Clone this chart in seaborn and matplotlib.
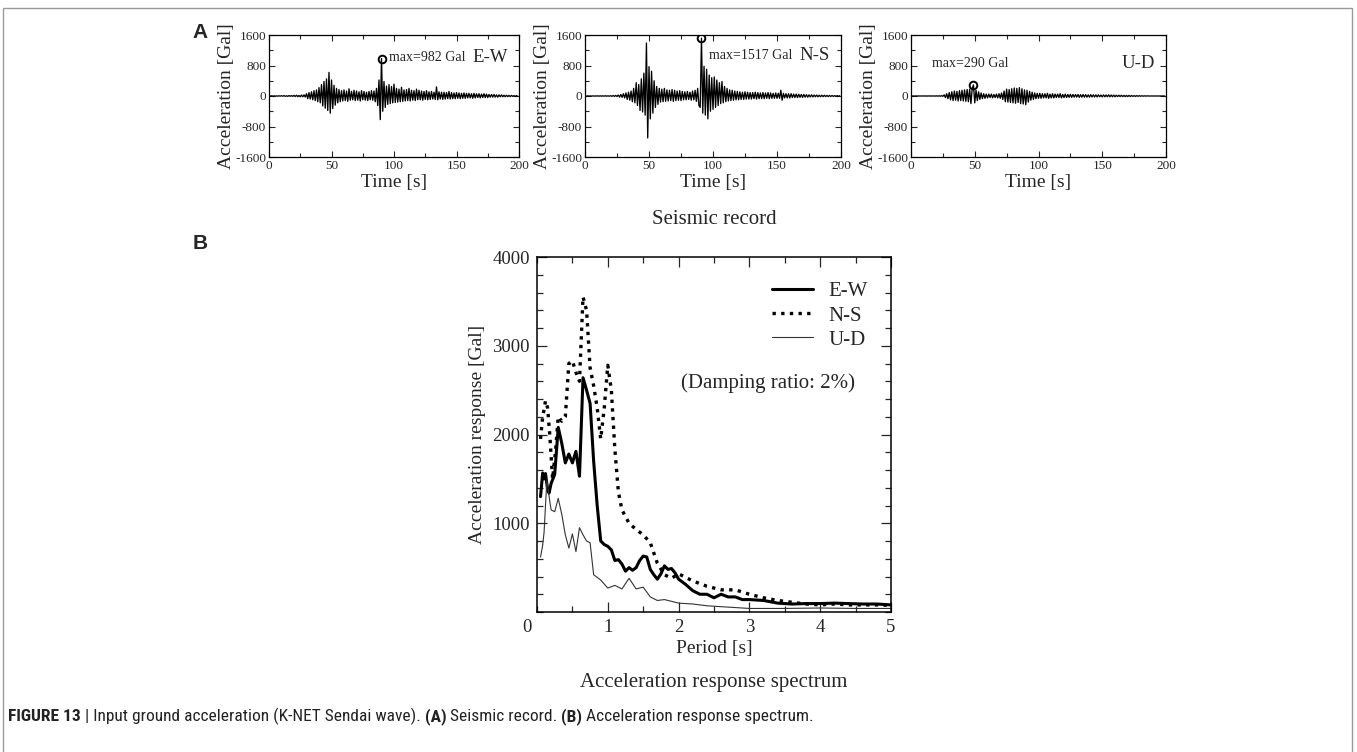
import numpy as np
import matplotlib
matplotlib.use("Agg")
import matplotlib.pyplot as plt
from matplotlib.patches import Rectangle
from matplotlib.ticker import MultipleLocator
from matplotlib import font_manager
import seaborn as sns

sns.set_theme(style="ticks")
plt.rcParams['font.family'] = ['Liberation Serif', 'DejaVu Serif']
plt.rcParams['axes.linewidth'] = 0.9
plt.rcParams['axes.unicode_minus'] = False

# ---- seismic record, 1 s samples (Gal) ----
time_s = np.arange(0, 200)

acc_ew = [
    4, -4, 5, -3, 4, -5, 3, -4, 5, -4,
    8, -6, 10, -8, 6, -10, 12, -8, 10, -9,
    15, -12, 20, -18, 14, -20, 25, -22, 30, -28,
    60, -70, 90, -80, 110, -100, 140, -120, 160, -150,
    220, -180, 300, -260, 380, -320, 450, -380, 620, -450,
    420, -330, 280, -240, 200, -180, 170, -150, 140, -130,
    160, -120, 130, -140, 190, -110, 120, -100, 150, -120,
    130, -110, 110, -130, 140, -100, 120, -110, 100, -120,
    120, -100, 140, -110, 130, -150, 200, -250, 420, -620,
    982, -400, 380, -300, 260, -220, 300, -200, 250, -180,
    310, -170, 200, -160, 180, -150, 230, -140, 160, -130,
    170, -120, 200, -130, 150, -110, 140, -120, 180, -100,
    150, -100, 130, -110, 120, -90, 140, -100, 110, -90,
    120, -80, 100, -90, 240, -100, 110, -80, 100, -90,
    100, -80, 90, -70, 120, -80, 90, -70, 80, -70,
    90, -60, 80, -70, 70, -60, 80, -60, 70, -50,
    70, -50, 60, -60, 70, -50, 60, -40, 60, -50,
    50, -40, 60, -40, 50, -40, 40, -30, 40, -30,
    40, -30, 30, -30, 30, -20, 30, -20, 20, -20,
    20, -15, 15, -15, 15, -10, 10, -10, 10, -10,
]

acc_ns = [
    3, -3, 3, -3, 3, -3, 3, -3, 3, -3,
    4, -4, 5, -5, 4, -4, 6, -5, 5, -6,
    8, -8, 12, -10, 15, -12, 25, -30, 40, -35,
    60, -50, 80, -90, 100, -110, 130, -150, 200, -180,
    350, -250, 300, -380, 450, -420, 600, -500, 1390, -1100,
    770, -600, 650, -450, 400, -300, 250, -220, 200, -160,
    180, -150, 200, -140, 160, -130, 150, -120, 170, -140,
    150, -120, 130, -110, 140, -120, 120, -100, 110, -100,
    120, -90, 100, -110, 130, -100, 150, -140, 200, -250,
    -300, 1517, -450, 780, -500, 700, -600, 550, -400, 480,
    -350, 500, -300, 420, -250, 350, -200, 380, -180, 250,
    -150, 200, -130, 160, -120, 150, -110, 130, -100, 120,
    -100, 110, -90, 100, -90, 110, -80, 100, -80, 90,
    -80, 90, -70, 100, -80, 90, -70, 80, -70, 90,
    -70, 80, -60, 90, -70, 80, -60, 70, -60, 80,
    -60, 70, -60, 150, -110, 70, -50, 60, -50, 60,
    -50, 60, -40, 50, -40, 50, -40, 45, -35, 40,
    -35, 40, -30, 35, -30, 30, -25, 30, -25, 25,
    -20, 25, -20, 20, -20, 20, -15, 20, -15, 15,
    -15, 15, -12, 12, -10, 10, -10, 10, -8, 8,
]

acc_ud = [
    2, -2, 2, -2, 2, -2, 2, -2, 2, -2,
    3, -3, 3, -3, 3, -3, 3, -3, 3, -3,
    5, -5, 6, -6, 8, -8, 30, -40, 60, -70,
    90, -100, 110, -120, 130, -110, 120, -130, 140, -120,
    150, -130, 160, -140, 170, -150, 180, -200, 190, 290,
    -180, 150, -120, 110, -90, 80, -70, 60, -60, 50,
    -50, 50, -40, 50, -50, 40, -40, 50, -50, 60,
    -60, 80, -90, 130, -150, 180, -160, 170, -170, 190,
    -180, 210, -190, 200, -170, 220, -200, 190, -210, 160,
    -230, 150, -160, 120, -110, 100, -90, 80, -70, 70,
    -60, 70, -60, 60, -50, 60, -50, 70, -60, 50,
    -50, 60, -50, 50, -40, 50, -40, 60, -50, 40,
    -40, 50, -40, 40, -35, 45, -35, 40, -30, 40,
    -30, 40, -35, 35, -30, 40, -30, 35, -30, 30,
    -30, 35, -25, 30, -25, 30, -25, 30, -20, 25,
    -25, 30, -20, 25, -20, 30, -20, 25, -20, 25,
    -20, 20, -15, 20, -15, 20, -15, 15, -15, 15,
    -15, 15, -12, 12, -10, 10, -10, 10, -8, 8,
    -6, 6, -5, 5, -3, 3, 0, 0, 0, 0,
    0, 0, 0, 0, 0, 0, 0, 0, 0, 0,
]

records = [
    ("E-W", acc_ew, 90, 982, "max=982 Gal"),
    ("N-S", acc_ns, 91, 1517, "max=1517 Gal"),
    ("U-D", acc_ud, 49, 290, "max=290 Gal"),
]

# ---- acceleration response spectrum (Gal) ----
period_ew = [0.05, 0.08, 0.1, 0.12, 0.15, 0.17, 0.2, 0.25, 0.3, 0.35, 0.4, 0.45,
             0.5, 0.55, 0.6, 0.65, 0.7, 0.75, 0.8, 0.85, 0.9, 0.95, 1.0, 1.05,
             1.1, 1.15, 1.2, 1.25, 1.3, 1.35, 1.4, 1.45, 1.5, 1.55, 1.6, 1.65,
             1.7, 1.75, 1.8, 1.85, 1.9, 1.95, 2.0, 2.1, 2.2, 2.3, 2.4, 2.5, 2.6,
             2.7, 2.8, 2.9, 3.0, 3.2, 3.4, 3.6, 3.8, 4.0, 4.2, 4.4, 4.6, 4.8, 5.0]
sa_ew = [1300, 1566, 1500, 1560, 1380, 1340, 1450, 1550, 2080, 1900, 1680, 1780,
         1680, 1810, 1530, 2640, 2500, 2350, 1700, 1200, 800, 760, 740, 700,
         580, 590, 540, 460, 500, 470, 500, 580, 630, 620, 480, 420,
         370, 430, 520, 480, 490, 440, 370, 310, 240, 200, 200, 160, 200,
         170, 170, 140, 140, 130, 100, 90, 95, 95, 100, 95, 90, 90, 80]

period_ns = [0.05, 0.08, 0.1, 0.12, 0.15, 0.18, 0.22, 0.26, 0.3, 0.35, 0.4, 0.45,
             0.5, 0.55, 0.6, 0.65, 0.7, 0.75, 0.8, 0.85, 0.9, 0.95, 1.0, 1.05,
             1.1, 1.15, 1.2, 1.3, 1.4, 1.5, 1.6, 1.7, 1.8, 1.9, 2.0, 2.2, 2.4,
             2.6, 2.8, 3.0, 3.2, 3.4, 3.6, 3.8, 4.0, 4.2, 4.4, 4.6, 4.8, 5.0]
sa_ns = [1950, 2200, 2280, 2380, 2300, 2000, 1500, 1800, 2200, 2150, 2200, 2800,
         2830, 2700, 2600, 3550, 3400, 2750, 2550, 2300, 1950, 2300, 2780, 2500,
         1830, 1350, 1150, 1000, 930, 870, 780, 550, 420, 380, 430, 350, 290,
         250, 250, 200, 160, 130, 110, 90, 80, 90, 80, 80, 80, 75]

period_ud = [0.05, 0.08, 0.1, 0.12, 0.14, 0.18, 0.2, 0.25, 0.3, 0.35, 0.4, 0.45,
             0.5, 0.55, 0.6, 0.65, 0.7, 0.75, 0.8, 0.9, 1.0, 1.1, 1.2, 1.3,
             1.4, 1.5, 1.6, 1.7, 1.8, 1.9, 2.0, 2.2, 2.4, 2.6, 2.8, 3.0, 3.5,
             4.0, 4.5, 5.0]
sa_ud = [620, 750, 900, 1200, 1490, 1250, 1150, 1130, 1280, 1100, 870, 720,
         880, 680, 950, 870, 800, 780, 420, 360, 270, 300, 260, 380,
         260, 280, 170, 130, 140, 120, 100, 90, 70, 60, 50, 40, 40,
         45, 40, 40]

W, H = 1357, 752
fig = plt.figure(figsize=(W / 100, H / 100), dpi=100)
fig.patch.set_facecolor("white")

# outer frame of the figure box
fig.add_artist(Rectangle((3 / W, -0.05), 1349 / W, 1.05 - 8 / H, transform=fig.transFigure,
                         fill=False, edgecolor="#9a9a9a", linewidth=1.0, clip_on=False))

trace_boxes = [(269, 250), (585, 256), (911, 255)]
label_pos = [(96, 1020), (96.5, 1050), (16.5, 865)]

for (left, width), (name, acc, t_max, a_max, max_txt), (tx, ty) in zip(trace_boxes, records, label_pos):
    ax = fig.add_axes([left / W, 1 - 157 / H, width / W, 122 / H])
    sns.lineplot(x=time_s, y=acc, ax=ax, color="black", linewidth=0.95,
                 estimator=None, sort=False)
    ax.plot([t_max], [a_max], marker="o", ms=5.5, mfc="none", mec="black", mew=1.4)
    ax.text(tx, ty, max_txt, fontsize=10, va="center", ha="left")
    ax.text(0.955, ty, name, transform=ax.get_yaxis_transform(), fontsize=13.5,
            va="center", ha="right")
    ax.set_xlim(0, 200)
    ax.set_ylim(-1600, 1600)
    ax.xaxis.set_major_locator(MultipleLocator(50))
    ax.xaxis.set_minor_locator(MultipleLocator(25))
    ax.yaxis.set_major_locator(MultipleLocator(800))
    ax.yaxis.set_minor_locator(MultipleLocator(400))
    ax.tick_params(which="both", direction="in", top=True, right=True,
                   labelsize=9.5, pad=2, width=0.8)
    ax.tick_params(which="major", length=4)
    ax.tick_params(which="minor", length=3)
    ax.set_xlabel("Time [s]", fontsize=14)
    ax.xaxis.set_label_coords(0.5, -(183 - 157) / 122)
    ax.xaxis.label.set_verticalalignment("center")
    ax.set_ylabel("Acceleration [Gal]", fontsize=14)
    ax.yaxis.set_label_coords(-(269 - 227) / width, 0.5)
    ax.yaxis.label.set_verticalalignment("center")
    for s in ax.spines.values():
        s.set_color("black")

fig.text(714 / W, 1 - 220 / H, "Seismic record", fontsize=15, ha="center", va="center")

# ---- response spectrum panel ----
axs = fig.add_axes([537 / W, 1 - 612 / H, 354 / W, 355 / H])
sns.lineplot(x=period_ew, y=sa_ew, ax=axs, color="black", linewidth=2.2, label="E-W",
             estimator=None)
sns.lineplot(x=period_ns, y=sa_ns, ax=axs, color="black", linewidth=2.4,
             linestyle=(0, (1, 1.6)), label="N-S", estimator=None)
sns.lineplot(x=period_ud, y=sa_ud, ax=axs, color="#333333", linewidth=0.8, label="U-D",
             estimator=None)
axs.set_xlim(0, 5)
axs.set_ylim(0, 4000)
axs.xaxis.set_major_locator(MultipleLocator(1))
axs.xaxis.set_minor_locator(MultipleLocator(0.5))
axs.yaxis.set_major_locator(MultipleLocator(1000))
axs.yaxis.set_minor_locator(MultipleLocator(200))
axs.tick_params(which="both", direction="in", top=True, right=True,
                labelsize=13.5, pad=5, width=0.9)
axs.tick_params(which="major", length=7)
axs.tick_params(which="minor", length=4)
axs.set_xticks([1, 2, 3, 4, 5])
axs.set_yticks([1000, 2000, 3000, 4000])
axs.annotate("0", xy=(0, 0), xycoords="data", xytext=(-4, -5), textcoords="offset points",
             ha="right", va="top", fontsize=13.5)
for s in axs.spines.values():
    s.set_color("black")
    s.set_linewidth(1.1)
axs.set_xlabel("Period [s]", fontsize=14)
axs.xaxis.set_label_coords(0.5, -(648 - 612) / 355)
axs.xaxis.label.set_verticalalignment("center")
axs.set_ylabel("Acceleration response [Gal]", fontsize=14)
axs.yaxis.set_label_coords(-(537 - 478) / 354, 0.5)
axs.yaxis.label.set_verticalalignment("center")
axs.legend(loc="upper right", bbox_to_anchor=(0.935, 0.93), frameon=False, fontsize=15,
           handlelength=1.95, handletextpad=0.75, labelspacing=0.22, borderpad=0,
           borderaxespad=0)
axs.text(0.653, 0.645, "(Damping ratio: 2%)", transform=axs.transAxes, fontsize=15,
         ha="center", va="center")

fig.text(714 / W, 1 - 682 / H, "Acceleration response spectrum", fontsize=15,
         ha="center", va="center")

# panel letters
sans = ["Liberation Sans", "DejaVu Sans"]
fig.text(200 / W, 1 - 33 / H, "A", fontsize=15, fontweight="bold", family=sans,
         ha="center", va="center")
fig.text(200 / W, 1 - 243 / H, "B", fontsize=15, fontweight="bold", family=sans,
         ha="center", va="center")

# caption with bold pieces (condensed face if one is installed)
installed = {f.name for f in font_manager.fontManager.ttflist}
narrow = [n for n in ["Liberation Sans Narrow", "Roboto Condensed", "Open Sans Condensed"]
          if n in installed]
cap_family = (narrow[:1] or ["Roboto"]) + ["Liberation Sans", "DejaVu Sans"]
pieces = [("FIGURE 13", "bold"), (" | Input ground acceleration (K-NET Sendai wave). ", "normal"),
          ("(A)", "bold"), (" Seismic record. ", "normal"), ("(B)", "bold"),
          (" Acceleration response spectrum.", "normal")]
renderer = fig.canvas.get_renderer()
x = 8 / W
for txt, weight in pieces:
    t = fig.text(x, 1 - 721 / H, txt, fontsize=12.5, fontweight=weight, family=cap_family,
                 ha="left", va="baseline", color="#222222")
    bb = t.get_window_extent(renderer=renderer)
    x += bb.width / W

fig.savefig("out.png", dpi=100)
